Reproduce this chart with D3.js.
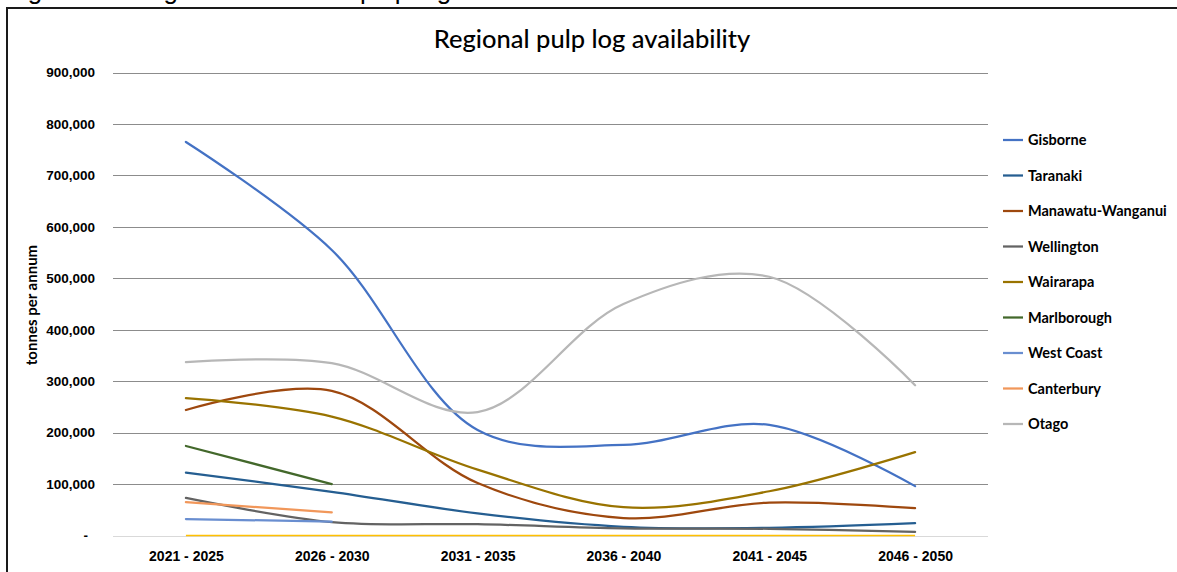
<!DOCTYPE html>
<html>
<head>
<meta charset="utf-8">
<script src="https://cdn.jsdelivr.net/npm/d3@7"></script>
<style>
    body { margin: 0; background: #fff; }
    svg { display: block; font-family: Lato, "Open Sans", sans-serif; }
</style>
</head>
<body>
<svg id="chart" width="1177" height="572"></svg>
<script>
// Periods on the x axis
const periods = ["2021 - 2025", "2026 - 2030", "2031 - 2035", "2036 - 2040", "2041 - 2045", "2046 - 2050"];

// Values in tonnes per annum (null = no value)
const gisborne   = [765000, 555000, 205000, 176000, 215000, 96000];
const taranaki   = [122000, 85000, 43000, 17000, 15000, 24000];
const manawatu   = [244000, 281000, 102000, 34000, 64000, 53000];
const wellington = [73000, 26000, 22000, 14000, 13000, 7000];
const wairarapa  = [267000, 231000, 128000, 55000, 86000, 162000];
const marlborough = [174000, 100000, null, null, null, null];
const westCoast  = [32000, 27000, null, null, null, null];
const canterbury = [65000, 45000, null, null, null, null];
const otago      = [337000, 335000, 240000, 450000, 503000, 292000];
const zeroSeries = [0, 0, 0, 0, 0, 0];   // yellow line on the baseline, not in legend

const yTicks = [0, 100000, 200000, 300000, 400000, 500000, 600000, 700000, 800000, 900000];

const series = [
    { name: "Gisborne", values: gisborne, color: "#4472C4" },
    { name: "Taranaki", values: taranaki, color: "#255E91" },
    { name: "Manawatu-Wanganui", values: manawatu, color: "#9E480E" },
    { name: "Wellington", values: wellington, color: "#636363" },
    { name: "Wairarapa", values: wairarapa, color: "#997300" },
    { name: "Marlborough", values: marlborough, color: "#43682B" },
    { name: "West Coast", values: westCoast, color: "#698ED0" },
    { name: "Canterbury", values: canterbury, color: "#F1975A" },
    { name: "Otago", values: otago, color: "#B7B7B7" }
];

const plot = { left: 113, right: 988, top: 72.5, bottom: 535.5 };

const svg = d3.select("#chart");

// Caption of the page above, only its lower edge shows in the crop
svg.append("text")
    .attr("x", 6)
    .attr("y", -1)
    .style("font-family", "Arial, 'Liberation Sans', sans-serif")
    .style("font-size", "26px")
    .text("Figure 10: Regional estimated pulp log harvest");

// Frame round the chart
svg.append("rect")
    .attr("x", 7)
    .attr("y", 8)
    .attr("width", 1200)
    .attr("height", 600)
    .attr("fill", "none")
    .attr("stroke", "#1a1a1a")
    .attr("stroke-width", 2);

const x = d3.scalePoint()
    .domain(periods)
    .range([plot.left, plot.right])
    .padding(0.5);

const y = d3.scaleLinear()
    .domain([0, 900000])
    .range([plot.bottom, plot.top]);

// Gridlines
svg.append("g")
    .selectAll("line")
    .data(yTicks)
    .join("line")
    .attr("x1", plot.left)
    .attr("x2", plot.right)
    .attr("y1", d => Math.round(y(d)) + 0.5)
    .attr("y2", d => Math.round(y(d)) + 0.5)
    .attr("stroke", d => d === 0 ? "#d9d9d9" : "#8c8c8c")
    .attr("stroke-width", 1);

// Y axis labels
const yAxis = svg.append("g")
    .attr("transform", `translate(${plot.left - 18},0)`)
    .call(d3.axisLeft(y)
        .tickValues(yTicks)
        .tickSize(0)
        .tickPadding(0)
        .tickFormat(d => d === 0 ? "-" : d3.format(",")(d)));
yAxis.select(".domain").remove();
yAxis.selectAll("text")
    .style("font-size", "13.5px")
    .style("font-weight", "bold")
    .attr("fill", "#000");
yAxis.selectAll("text").filter(d => d === 0).attr("dx", -7);

// X axis labels
const xAxis = svg.append("g")
    .attr("transform", `translate(0,${plot.bottom})`)
    .call(d3.axisBottom(x).tickSize(0).tickPadding(16));
xAxis.select(".domain").remove();
xAxis.selectAll("text")
    .style("font-size", "14px")
    .style("font-weight", "bold")
    .attr("fill", "#000");

// Y axis title
svg.append("text")
    .attr("transform", "translate(37,305) rotate(-90)")
    .attr("text-anchor", "middle")
    .style("font-size", "15px")
    .style("font-weight", "bold")
    .text("tonnes per annum");

// Title
svg.append("text")
    .attr("x", 592)
    .attr("y", 48)
    .attr("text-anchor", "middle")
    .style("font-size", "25.5px")
    .style("font-weight", "500")
    .text("Regional pulp log availability");

const line = d3.line()
    .defined(d => d.value !== null)
    .x(d => x(d.period))
    .y(d => y(d.value))
    .curve(d3.curveCatmullRom.alpha(0.5));

const toPoints = values => values.map((v, i) => ({ period: periods[i], value: v }));

// Yellow baseline series first
svg.append("path")
    .datum(toPoints(zeroSeries))
    .attr("fill", "none")
    .attr("stroke", "#FFC000")
    .attr("stroke-width", 1.5)
    .attr("d", line);

svg.append("g")
    .selectAll("path")
    .data(series)
    .join("path")
    .attr("fill", "none")
    .attr("stroke", d => d.color)
    .attr("stroke-width", 2.25)
    .attr("stroke-linecap", "round")
    .attr("d", d => line(toPoints(d.values)));

// Legend
const legend = svg.append("g")
    .selectAll("g")
    .data(series)
    .join("g")
    .attr("transform", (d, i) => `translate(1003,${140 + i * 35.5})`);

legend.append("line")
    .attr("x1", 0)
    .attr("x2", 20)
    .attr("stroke", d => d.color)
    .attr("stroke-width", 2.25);

legend.append("text")
    .attr("x", 25)
    .attr("dy", "0.35em")
    .style("font-size", "14.5px")
    .style("font-weight", "bold")
    .text(d => d.name);
</script>
</body>
</html>
